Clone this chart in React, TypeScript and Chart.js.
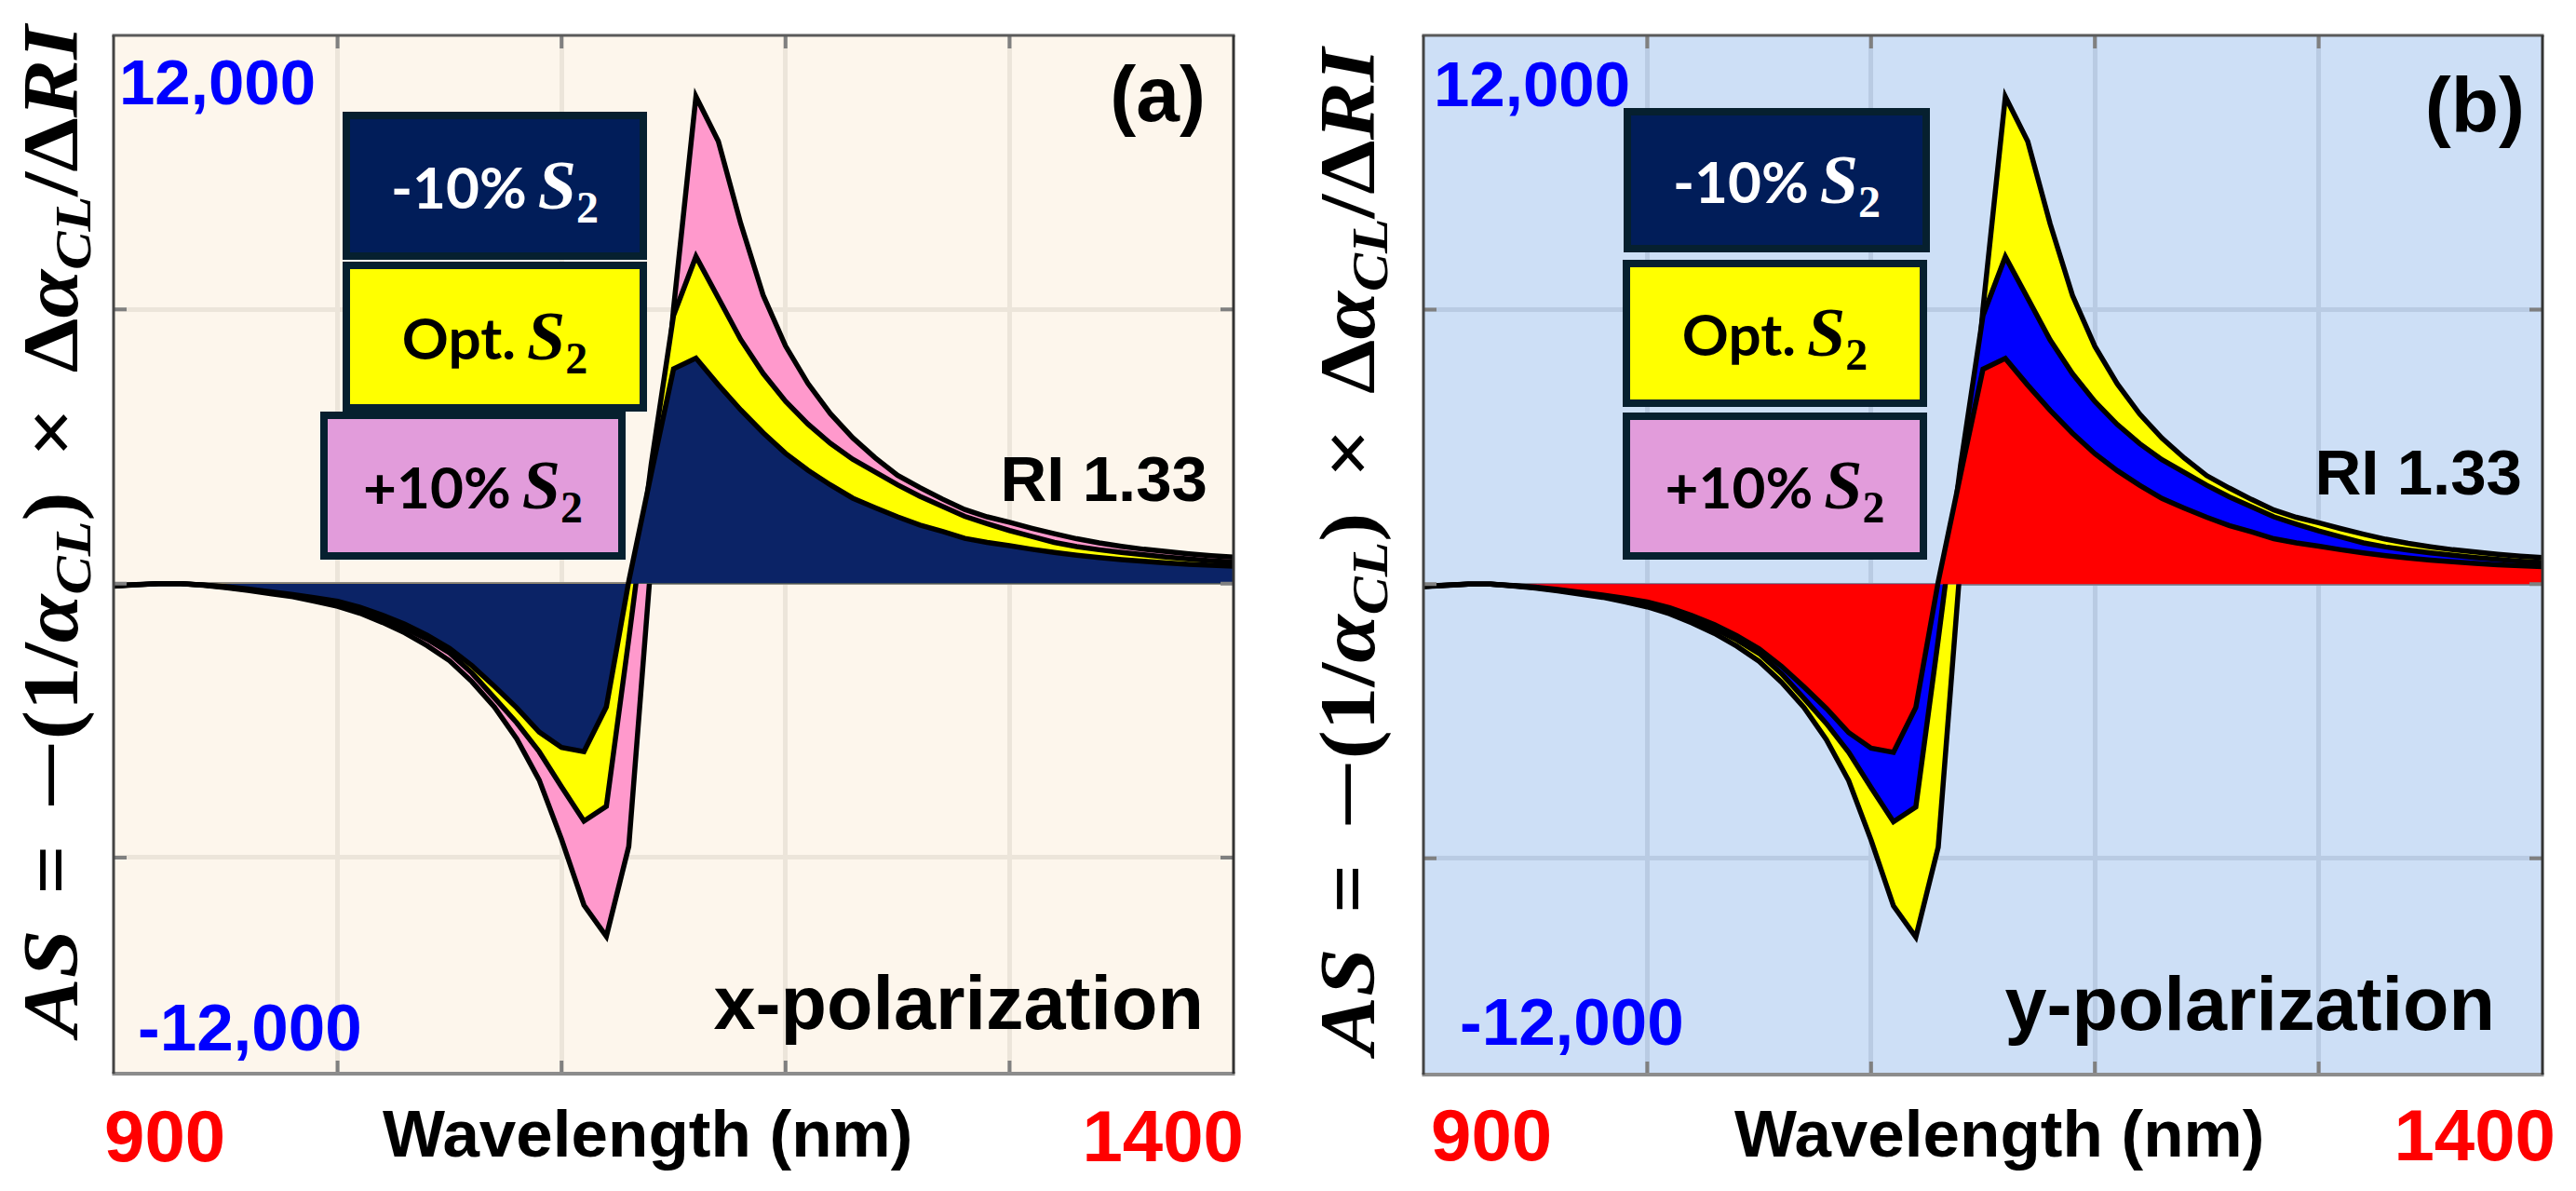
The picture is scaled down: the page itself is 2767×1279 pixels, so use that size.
import { useEffect, useLayoutEffect, useRef, useState } from 'react';
import Chart from 'chart.js/auto';

// wavelength samples (nm), 10 nm steps as in the source curves
const wavelengths = [
  900, 910, 920, 930, 940, 950, 960, 970, 980, 990,
  1000, 1010, 1020, 1030, 1040, 1050, 1060, 1070, 1080, 1090,
  1100, 1110, 1120, 1130, 1140, 1150, 1160, 1170, 1180, 1190,
  1200, 1210, 1220, 1230, 1240, 1250, 1260, 1270, 1280, 1290,
  1300, 1310, 1320, 1330, 1340, 1350, 1360, 1370, 1380, 1390, 1400,
];

// smallest curve (drawn on top)
const innerCurve = [
  -50, -20, 0, 0, -30, -70, -120, -180, -240, -310,
  -390, -520, -690, -890, -1130, -1420, -1800, -2250, -2720, -3250,
  -3590, -3680, -2700, 50, 2400, 4700, 4935, 4350, 3800, 3300,
  2850, 2480, 2160, 1870, 1660, 1460, 1280, 1140, 990, 900,
  830, 750, 680, 620, 570, 525, 485, 450, 420, 400, 380,
];

// middle curve
const middleCurve = [
  -55, -25, 0, 0, -35, -80, -135, -200, -270, -360,
  -470, -610, -780, -975, -1220, -1520, -1960, -2500, -3050, -3680,
  -4450, -5200, -4875, -1220, 2600, 5870, 7160, 6250, 5340, 4600,
  3990, 3490, 3070, 2720, 2440, 2160, 1910, 1690, 1470, 1310,
  1160, 1030, 900, 810, 740, 680, 630, 580, 540, 500, 470,
];

// largest curve (drawn underneath)
const outerCurve = [
  -60, -30, 0, 0, -40, -90, -150, -220, -290, -390,
  -500, -650, -850, -1080, -1360, -1690, -2150, -2700, -3400, -4300,
  -5600, -7040, -7723, -5756, 500, 6020, 10660, 9682, 7880, 6310,
  5200, 4380, 3720, 3190, 2754, 2370, 2100, 1850, 1620, 1460,
  1340, 1210, 1090, 980, 890, 815, 750, 700, 650, 610, 580,
];

const xGridTicks = [1000, 1100, 1200, 1300];
const yGridTicks = [-6000, 0, 6000];
const X_MIN = 900;
const X_MAX = 1400;
const Y_MIN = -10730;
const Y_MAX = 12000;

const PAD = 12;

type PanelProps = {
  left: number;
  top: number;
  width: number;
  height: number;
  background: string;
  gridColor: string;
  zeroColor: string;
  fills: string[];
};

const framePlugin = {
  id: 'frame',
  beforeDraw(chart: any, _args: any, opts: any) {
    const { ctx, chartArea: a } = chart;
    ctx.save();
    ctx.fillStyle = opts.background;
    ctx.fillRect(a.left, a.top, a.right - a.left, a.bottom - a.top);
    ctx.restore();
  },
  afterDraw(chart: any) {
    const { ctx, chartArea: a, scales } = chart;
    const x = scales.x;
    const y = scales.y;
    ctx.save();
    // short inward ticks on every side
    ctx.strokeStyle = '#808080';
    ctx.lineWidth = 4;
    ctx.beginPath();
    xGridTicks.forEach((v) => {
      const px = x.getPixelForValue(v);
      ctx.moveTo(px, a.bottom);
      ctx.lineTo(px, a.bottom - 14);
      ctx.moveTo(px, a.top);
      ctx.lineTo(px, a.top + 14);
    });
    yGridTicks.forEach((v) => {
      const py = y.getPixelForValue(v);
      ctx.moveTo(a.left, py);
      ctx.lineTo(a.left + 14, py);
      ctx.moveTo(a.right, py);
      ctx.lineTo(a.right - 14, py);
    });
    ctx.stroke();

    // box around the plot
    const side = (color: string, w: number, x1: number, y1: number, x2: number, y2: number) => {
      ctx.strokeStyle = color;
      ctx.lineWidth = w;
      ctx.beginPath();
      ctx.moveTo(x1, y1);
      ctx.lineTo(x2, y2);
      ctx.stroke();
    };
    side('#5a5a5a', 3, a.left - 1.5, a.top, a.right + 1.5, a.top);
    side('#8c8c8c', 4, a.left - 1.5, a.bottom, a.right + 1.5, a.bottom);
    side('#444444', 3, a.left, a.top, a.left, a.bottom);
    side('#333333', 3, a.right, a.top, a.right, a.bottom);
    ctx.restore();
  },
};

function Panel({ left, top, width, height, background, gridColor, zeroColor, fills }: PanelProps) {
  const canvasRef = useRef<HTMLCanvasElement | null>(null);

  useEffect(() => {
    if (!canvasRef.current) return;
    const series = [innerCurve, middleCurve, outerCurve];
    const chart = new Chart(canvasRef.current, {
      type: 'line',
      data: {
        datasets: series.map((values, i) => ({
          data: wavelengths.map((w, j) => ({ x: w, y: values[j] })),
          borderColor: '#000000',
          borderWidth: 5.5,
          borderJoinStyle: 'miter',
          backgroundColor: fills[i],
          fill: 'origin',
          pointRadius: 0,
          tension: 0,
        })),
      },
      options: {
        responsive: false,
        animation: false,
        events: [],
        layout: { padding: PAD },
        plugins: {
          legend: { display: false },
          tooltip: { enabled: false },
          frame: { background },
        } as any,
        scales: {
          x: {
            type: 'linear',
            min: X_MIN,
            max: X_MAX,
            afterBuildTicks: (scale: any) => {
              scale.ticks = xGridTicks.map((value) => ({ value }));
            },
            ticks: { display: false },
            grid: { color: gridColor, lineWidth: 5, drawTicks: false },
            border: { display: false },
          },
          y: {
            type: 'linear',
            min: Y_MIN,
            max: Y_MAX,
            afterBuildTicks: (scale: any) => {
              scale.ticks = yGridTicks.map((value) => ({ value }));
            },
            ticks: { display: false },
            grid: {
              color: (ctx: any) => (ctx.tick && ctx.tick.value === 0 ? zeroColor : gridColor),
              lineWidth: (ctx: any) => (ctx.tick && ctx.tick.value === 0 ? 3 : 5),
              drawTicks: false,
            },
            border: { display: false },
          },
        },
      },
      plugins: [framePlugin],
    });
    return () => chart.destroy();
  }, [background, gridColor, zeroColor, fills]);

  const w = width + PAD * 2;
  const h = height + PAD * 2;
  return (
    <canvas
      ref={canvasRef}
      width={w}
      height={h}
      style={{ position: 'absolute', left: left - PAD, top: top - PAD, width: w, height: h }}
    />
  );
}

type LabelProps = {
  x: number;
  base: number;
  size: number;
  color?: string;
  right?: boolean;
  children: React.ReactNode;
};

// positions text by its baseline (Liberation Sans metrics)
function Label({ x, base, size, color = '#000', right = false, children }: LabelProps) {
  return (
    <div
      style={{
        position: 'absolute',
        left: x,
        top: base - 0.8465 * size,
        transform: right ? 'translateX(-100%)' : undefined,
        font: `bold ${size}px "Liberation Sans", Arial, sans-serif`,
        lineHeight: 1,
        color,
        whiteSpace: 'nowrap',
      }}
    >
      {children}
    </div>
  );
}

type KeyBoxProps = {
  x: number;
  y: number;
  w: number;
  h: number;
  fill: string;
  color: string;
  label: string;
};

function KeyBox({ x, y, w, h, fill, color, label }: KeyBoxProps) {
  return (
    <div
      style={{
        position: 'absolute',
        left: x,
        top: y,
        width: w,
        height: h,
        boxSizing: 'border-box',
        border: '8px solid #06202f',
        background: fill,
        color,
        display: 'flex',
        alignItems: 'center',
        justifyContent: 'center',
        whiteSpace: 'nowrap',
      }}
    >
      <span style={{ font: 'bold 62px Lato, sans-serif', lineHeight: 1 }}>
        {label}
        <span style={{ font: 'italic bold 74px "Liberation Serif", serif', lineHeight: 0, marginLeft: 12 }}>S</span>
        <span style={{ font: 'bold 48px "Liberation Serif", serif', lineHeight: 0, verticalAlign: '-0.32em' }}>2</span>
      </span>
    </div>
  );
}

function AxisTitle({ cx, cy, length }: { cx: number; cy: number; length: number }) {
  const ref = useRef<HTMLDivElement | null>(null);
  const [k, setK] = useState(1);

  useLayoutEffect(() => {
    if (ref.current) setK(length / ref.current.offsetWidth);
  }, [length]);

  const sub = { fontSize: '0.66em', lineHeight: 0, verticalAlign: '-0.25em', fontStyle: 'italic' } as const;
  const op = { display: 'inline-block', margin: '0 0.4em' } as const;
  return (
    <div
      ref={ref}
      style={{
        position: 'absolute',
        left: cx,
        top: cy,
        transform: `translate(-50%, -50%) rotate(-90deg) scaleX(${k})`,
        font: 'bold 84px "Liberation Serif", serif',
        lineHeight: 1,
        whiteSpace: 'nowrap',
        color: '#000',
      }}
    >
      <i>AS</i>
      <span style={op}>=</span>
      <span style={{ display: 'inline-block', transform: 'scaleX(1.5)', margin: '0 0.12em' }}>−</span>
      {'(1/'}
      <i>α</i>
      <span style={sub}>CL</span>
      {')'}
      <span style={op}>×</span>
      {'Δ'}
      <i>α</i>
      <span style={sub}>CL</span>
      {'/Δ'}
      <i>RI</i>
    </div>
  );
}

const panelA: PanelProps = {
  left: 122,
  top: 38,
  width: 1203,
  height: 1115,
  background: '#fdf6ec',
  gridColor: '#ece5da',
  zeroColor: '#8e8a82',
  fills: ['#0b2366', '#ffff00', '#ff99cc'],
};

const panelB: PanelProps = {
  left: 1529,
  top: 38,
  width: 1202,
  height: 1116,
  background: '#cddff6',
  gridColor: '#b9cbe3',
  zeroColor: '#7f8b98',
  fills: ['#ff0000', '#0000ff', '#ffff00'],
};

export default function App() {
  return (
    <div
      style={{
        position: 'absolute',
        left: 0,
        top: 0,
        width: 2767,
        height: 1279,
        overflow: 'hidden',
        background: '#ffffff',
      }}
    >
      <Panel {...panelA} />
      <Panel {...panelB} />

      <AxisTitle cx={55} cy={570} length={1085} />
      <AxisTitle cx={1448} cy={592} length={1080} />

      {/* panel (a) */}
      <KeyBox x={368} y={120} w={327} h={159} fill="#011d59" color="#ffffff" label="-10%" />
      <KeyBox x={368} y={281} w={327} h={161} fill="#ffff00" color="#000000" label="Opt." />
      <KeyBox x={344} y={442} w={328} h={159} fill="#e29cdb" color="#000000" label="+10%" />
      <Label x={128} base={112} size={69} color="#0000ff">12,000</Label>
      <Label x={148} base={1128} size={71} color="#0000ff">-12,000</Label>
      <Label x={1295} base={130} size={84} right>(a)</Label>
      <Label x={1297} base={538} size={69} right>RI 1.33</Label>
      <Label x={1293} base={1106} size={81} right>x-polarization</Label>
      <Label x={112} base={1247} size={78} color="#ff0000">900</Label>
      <Label x={1336} base={1247} size={78} color="#ff0000" right>1400</Label>
      <Label x={411} base={1242} size={71}>Wavelength (nm)</Label>

      {/* panel (b) */}
      <KeyBox x={1744} y={116} w={329} h={155} fill="#011d59" color="#ffffff" label="-10%" />
      <KeyBox x={1743} y={279} w={327} h={158} fill="#ffff00" color="#000000" label="Opt." />
      <KeyBox x={1743} y={443} w={327} h={158} fill="#e29cdb" color="#000000" label="+10%" />
      <Label x={1540} base={114} size={69} color="#0000ff">12,000</Label>
      <Label x={1568} base={1122} size={71} color="#0000ff">-12,000</Label>
      <Label x={2712} base={142} size={84} right>(b)</Label>
      <Label x={2709} base={531} size={69} right>RI 1.33</Label>
      <Label x={2680} base={1107} size={81} right>y-polarization</Label>
      <Label x={1537} base={1246} size={78} color="#ff0000">900</Label>
      <Label x={2745} base={1246} size={78} color="#ff0000" right>1400</Label>
      <Label x={1863} base={1242} size={71}>Wavelength (nm)</Label>
    </div>
  );
}
